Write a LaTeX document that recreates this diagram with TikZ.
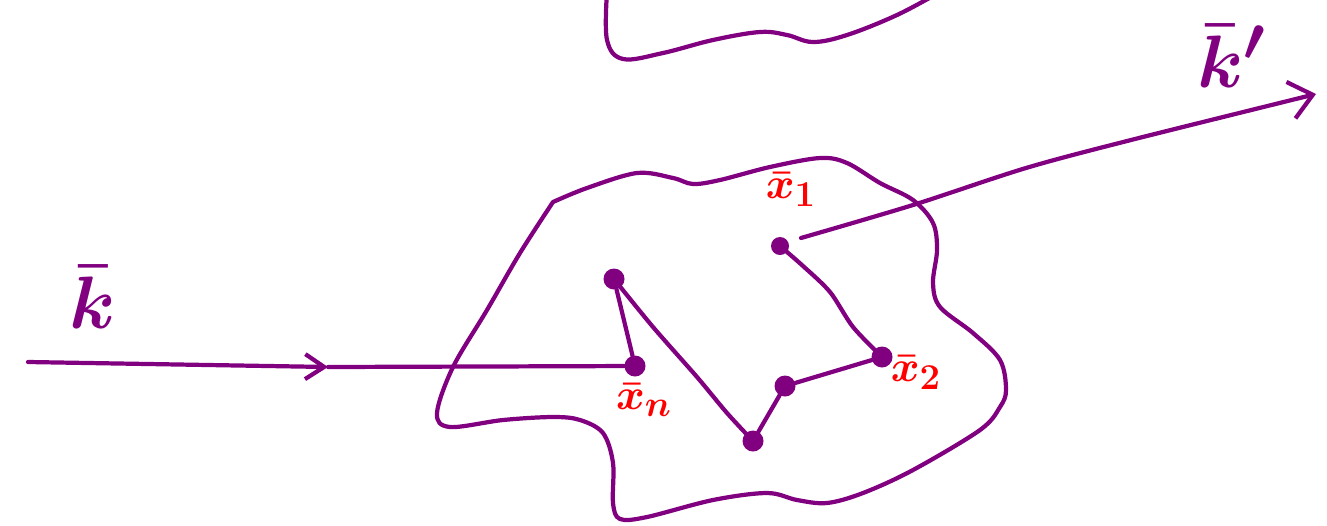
\documentclass[tikz,border=0pt]{standalone}
\usepackage{amsmath}
\usepackage{xcolor}
\usepackage{tikz}
\usetikzlibrary{arrows.meta}
\definecolor{pen}{RGB}{128,0,128}
\tikzset{
  stroke/.style={pen, line width=2.4pt, line cap=round, line join=round},
  dot/.style={circle, fill=pen, inner sep=0pt, minimum size=0.42cm},
  redlbl/.style={red, font=\Huge\boldmath},
  wavelbl/.style={pen, font=\Huge\boldmath, scale=1.7},
  chevin/.style={-{Straight Barb[length=0.38cm, width=0.5cm, line width=2.4pt]}},
  chevout/.style={-{Straight Barb[length=0.45cm, width=0.75cm, line width=2.4pt]}}
}
\begin{document}
\begin{tikzpicture}[x=0.02cm, y=-0.02cm]
\useasboundingbox (0,0) rectangle (1327,525);
% upper scatterer (cut off)
\draw[stroke] plot[smooth, tension=0.6] coordinates {(607,-8) (607,40) (623,59)
  (663,53) (713,40) (760,32) (787,35) (813,42) (847,35) (897,15) (940,-8)};
% target region
\draw[stroke] plot[smooth, tension=0.55] coordinates {(553,202) (587,188) (637,173)
  (673,178) (693,184) (720,180) (770,167) (820,158) (847,163) (880,183)
  (913,200) (933,223) (937,250) (933,283) (940,307) (973,333) (1000,360)
  (1006,390) (1000,407) (980,430) (913,470) (863,493) (827,503) (797,500)
  (767,493) (713,500) (647,517) (620,519) (613,503) (613,463) (603,433)
  (580,420) (553,417) (503,420) (450,427) (437,413) (453,367) (487,310)
  (520,253) (553,202)};
% scattering centres
\node[dot] (xn) at (635,366) {};
\node[dot] (p2) at (614,279) {};
\node[dot] (p3) at (753,441) {};
\node[dot] (p4) at (785,386) {};
\node[dot] (x2) at (882,357) {};
\node[dot, minimum size=0.36cm] (x1) at (780,246) {};
% path between centres
\draw[stroke] (xn) -- (p2);
\draw[stroke] plot[smooth] coordinates {(p2) (653,327) (697,377) (727,413) (p3)};
\draw[stroke] (p3) -- (p4);
\draw[stroke] (p4) -- (x2);
\draw[stroke] plot[smooth] coordinates {(x2) (853,327) (830,292) (803,266) (x1)};
% incoming and outgoing waves
\coordinate (kin) at (28,362);
\coordinate (kmid) at (328,367);
\coordinate (kstart) at (801,238);
\coordinate (kout) at (1316,94);
\draw[stroke, chevin] (kin) -- (kmid);
\draw[stroke] (kmid) -- (xn);
\draw[stroke, chevout] plot[smooth] coordinates {(kstart) (913,205)
  (1026,168) (1131,140) (kout)};
% labels
\node[wavelbl] (klbl) at (93,297) {$\bar{k}$};
\node[wavelbl] (kplbl) at (1232,56) {$\bar{k}'$};
\node[redlbl] (x1lbl) at (791,190) {$\bar{x}_1$};
\node[redlbl] (x2lbl) at (916,373) {$\bar{x}_2$};
\node[redlbl] (xnlbl) at (644,400) {$\bar{x}_n$};
\end{tikzpicture}
\end{document}
